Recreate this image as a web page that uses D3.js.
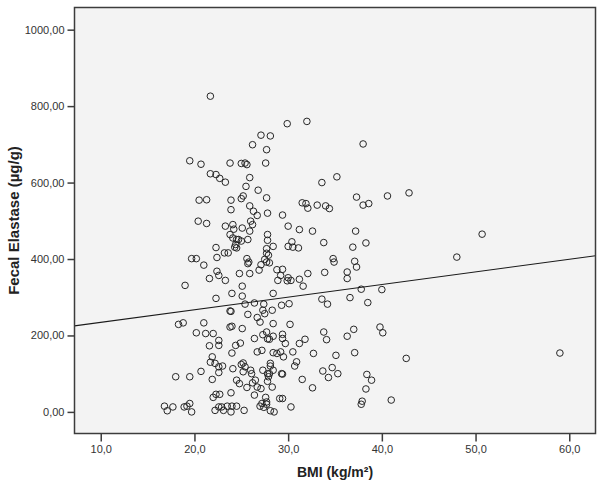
<!DOCTYPE html>
<html>
<head>
<meta charset="utf-8">
<script src="https://cdn.jsdelivr.net/npm/d3@7"></script>
<style>
  html, body { margin: 0; padding: 0; background: #ffffff; }
  svg { display: block; }
</style>
</head>
<body>
<svg id="chart" width="600" height="483"></svg>
<script>
// ---- data ----
const bmi = [
  21.7, 27.1, 28.1, 26.2, 27.7, 19.5, 20.7, 23.8, 25.0, 25.4, 25.6, 27.6, 21.7, 22.3, 22.7, 23.3, 25.9, 25.5, 26.8, 20.5,
  21.3, 23.9, 25.0, 25.2, 27.7, 29.9, 32.0, 38.0, 33.6, 35.2, 37.3, 40.6, 23.9, 25.9, 26.3, 26.7, 27.8, 20.4, 21.3, 23.3,
  24.1, 24.2, 25.1, 26.0, 26.2, 25.9, 23.8, 24.5, 24.1, 24.7, 25.0, 25.7, 27.8, 27.8, 22.3, 23.2, 23.6, 24.3, 24.5, 24.4,
  27.7, 27.7, 19.7, 20.2, 22.4, 25.6, 25.8, 25.7, 27.5, 27.7, 27.1, 28.0, 21.0, 26.9, 22.4, 22.6, 24.8, 25.9, 21.6, 23.3,
  19.0, 24.0, 25.1, 25.1, 22.3, 25.4, 26.4, 27.4, 23.8, 23.9, 27.3, 27.5, 25.7, 26.7, 31.5, 31.9, 32.1, 33.1, 34.0, 34.4,
  38.0, 38.6, 29.4, 30.0, 31.2, 32.6, 37.2, 28.4, 30.0, 30.4, 30.5, 31.1, 33.8, 36.9, 38.3, 27.9, 34.8, 34.9, 37.1, 37.3,
  28.8, 29.4, 29.2, 28.9, 30.0, 30.3, 29.9, 31.2, 31.6, 32.1, 33.9, 36.3, 36.3, 28.4, 37.8, 40.0, 33.6, 34.2, 36.6, 38.5,
  28.3, 29.3, 30.1, 18.3, 18.8, 21.0, 23.8, 24.0, 25.1, 27.0, 20.2, 21.2, 22.0, 22.6, 22.6, 21.6, 24.4, 24.9, 24.0, 26.4,
  27.3, 26.7, 27.2, 27.7, 27.8, 21.9, 21.7, 22.2, 22.6, 23.0, 22.6, 24.1, 25.0, 25.2, 25.4, 25.2, 26.0, 26.1, 27.3, 27.8,
  20.7, 18.0, 19.5, 21.9, 24.5, 24.8, 26.2, 26.5, 26.7, 25.6, 27.8, 27.9, 27.1, 22.3, 22.0, 22.7, 23.9, 26.4, 27.6, 27.7,
  16.8, 17.1, 17.7, 18.9, 19.2, 19.5, 19.7, 22.2, 22.6, 22.9, 23.5, 24.0, 24.5, 23.9, 23.1, 25.3, 27.0, 27.4, 28.4, 30.2,
  33.8, 34.1, 36.3, 37.0, 39.8, 40.1, 28.0, 28.4, 29.4, 29.4, 29.7, 31.2, 31.8, 28.4, 28.8, 29.2, 29.5, 30.5, 32.7, 35.1,
  37.1, 28.1, 28.1, 30.7, 30.9, 28.4, 28.0, 29.3, 29.4, 33.7, 34.7, 35.3, 34.3, 38.4, 38.9, 31.5, 28.3, 32.6, 38.3, 29.1,
  29.4, 27.2, 27.7, 28.1, 28.5, 30.3, 37.9, 37.8, 41.0, 42.9, 50.7, 48.0, 42.6, 59.0
];
const elastase = [
  826, 724, 722, 699, 686, 657, 648, 651, 650, 651, 647, 651, 623, 621, 611, 601, 613, 590, 580, 554,
  555, 554, 558, 565, 560, 754, 760, 701, 600, 615, 562, 565, 529, 539, 525, 514, 520, 499, 493, 486,
  490, 478, 481, 499, 490, 473, 464, 451, 455, 451, 447, 451, 464, 449, 430, 416, 416, 431, 429, 438,
  427, 415, 401, 401, 404, 401, 392, 388, 399, 392, 385, 390, 384, 371, 368, 357, 362, 362, 349, 344,
  331, 310, 329, 303, 297, 282, 285, 282, 264, 263, 266, 257, 255, 247, 547, 545, 533, 541, 539, 532,
  541, 545, 515, 486, 477, 473, 473, 433, 433, 445, 431, 429, 443, 431, 442, 410, 401, 392, 394, 379,
  372, 373, 357, 344, 351, 344, 343, 347, 329, 362, 365, 366, 349, 310, 321, 320, 295, 282, 299, 286,
  266, 279, 283, 229, 233, 233, 222, 224, 218, 235, 207, 205, 205, 187, 174, 173, 174, 180, 154, 192,
  202, 157, 161, 209, 191, 144, 130, 127, 118, 120, 103, 113, 124, 128, 118, 105, 109, 100, 109, 100,
  106, 92, 92, 85, 83, 74, 76, 83, 65, 64, 80, 92, 61, 46, 38, 46, 50, 44, 38, 26,
  15, 3, 13, 13, 15, 22, 0, 4, 13, 13, 15, 15, 15, 0, 4, 4, 15, 12, 231, 229,
  209, 189, 198, 216, 222, 207, 190, 198, 203, 192, 179, 179, 190, 155, 153, 157, 144, 157, 153, 148,
  155, 127, 120, 120, 131, 109, 100, 100, 99, 107, 116, 100, 90, 98, 83, 85, 65, 63, 60, 35,
  35, 22, 20, 3, 0, 13, 28, 20, 31, 573, 465, 405, 140, 154
];
// fit line: elastase = intercept + slope * BMI
const fitIntercept = 201.2;
const fitSlope = 3.30;
const xTicks = [10, 20, 30, 40, 50, 60];
const yTicks = [0, 200, 400, 600, 800, 1000];
const xTitle = "BMI (kg/m\u00B2)";
const yTitle = "Fecal Elastase (\u00B5g/g)";

// ---- layout ----
const svg = d3.select("#chart");
const pLeft = 74.5, pRight = 595.5, pTop = 7.5, pBottom = 433.5;
const x = d3.scaleLinear().domain([7.2, 62.8]).range([pLeft, pRight]);
const y = d3.scaleLinear().domain([-56.5, 1058]).range([pBottom, pTop]);

const fmt = d => d.toFixed(2).replace(".", ",");
const fmtX = d => d.toFixed(1).replace(".", ",");

// plot background
svg.append("rect")
  .attr("x", pLeft).attr("y", pTop)
  .attr("width", pRight - pLeft).attr("height", pBottom - pTop)
  .attr("fill", "#f3f3f3");

svg.append("clipPath").attr("id", "clip")
  .append("rect").attr("x", pLeft).attr("y", pTop)
  .attr("width", pRight - pLeft).attr("height", pBottom - pTop);

// points
const pts = bmi.map((b, i) => ({ b, e: elastase[i] }));
svg.append("g").attr("clip-path", "url(#clip)")
  .selectAll("circle").data(pts).join("circle")
  .attr("cx", d => x(d.b)).attr("cy", d => y(d.e))
  .attr("r", 3.3)
  .attr("fill", "none")
  .attr("stroke", "#262626")
  .attr("stroke-width", 1);

// regression line
const xd = x.domain();
svg.append("line")
  .attr("clip-path", "url(#clip)")
  .attr("x1", x(xd[0])).attr("y1", y(fitIntercept + fitSlope * xd[0]))
  .attr("x2", x(xd[1])).attr("y2", y(fitIntercept + fitSlope * xd[1]))
  .attr("stroke", "#1a1a1a").attr("stroke-width", 1.1);

// frame
svg.append("rect")
  .attr("x", pLeft).attr("y", pTop)
  .attr("width", pRight - pLeft).attr("height", pBottom - pTop)
  .attr("fill", "none").attr("stroke", "#3c3c3c").attr("stroke-width", 1.5);

// axes
const yAxis = svg.append("g").attr("transform", `translate(${pLeft},0)`)
  .call(d3.axisLeft(y).tickValues(yTicks).tickFormat(fmt).tickSize(7).tickPadding(3));
const xAxis = svg.append("g").attr("transform", `translate(0,${pBottom})`)
  .call(d3.axisBottom(x).tickValues(xTicks).tickFormat(fmtX).tickSize(8).tickPadding(4));
[yAxis, xAxis].forEach(g => {
  g.select(".domain").remove();
  g.selectAll(".tick line").attr("stroke", "#3c3c3c").attr("stroke-width", 1.5);
  g.selectAll(".tick text")
    .attr("fill", "#333")
    .style("font-family", "'Liberation Sans', Arial, sans-serif")
    .style("font-size", "11px");
});

// titles
svg.append("text")
  .attr("x", (pLeft + pRight) / 2).attr("y", 477)
  .attr("text-anchor", "middle")
  .style("font-family", "'Liberation Sans', Arial, sans-serif")
  .style("font-size", "14px").style("font-weight", "bold")
  .attr("fill", "#222")
  .text(xTitle);
svg.append("text")
  .attr("transform", `translate(19,${(pTop + pBottom) / 2}) rotate(-90)`)
  .attr("text-anchor", "middle")
  .style("font-family", "'Liberation Sans', Arial, sans-serif")
  .style("font-size", "15px").style("font-weight", "bold")
  .attr("fill", "#222")
  .text(yTitle);
</script>
</body>
</html>
